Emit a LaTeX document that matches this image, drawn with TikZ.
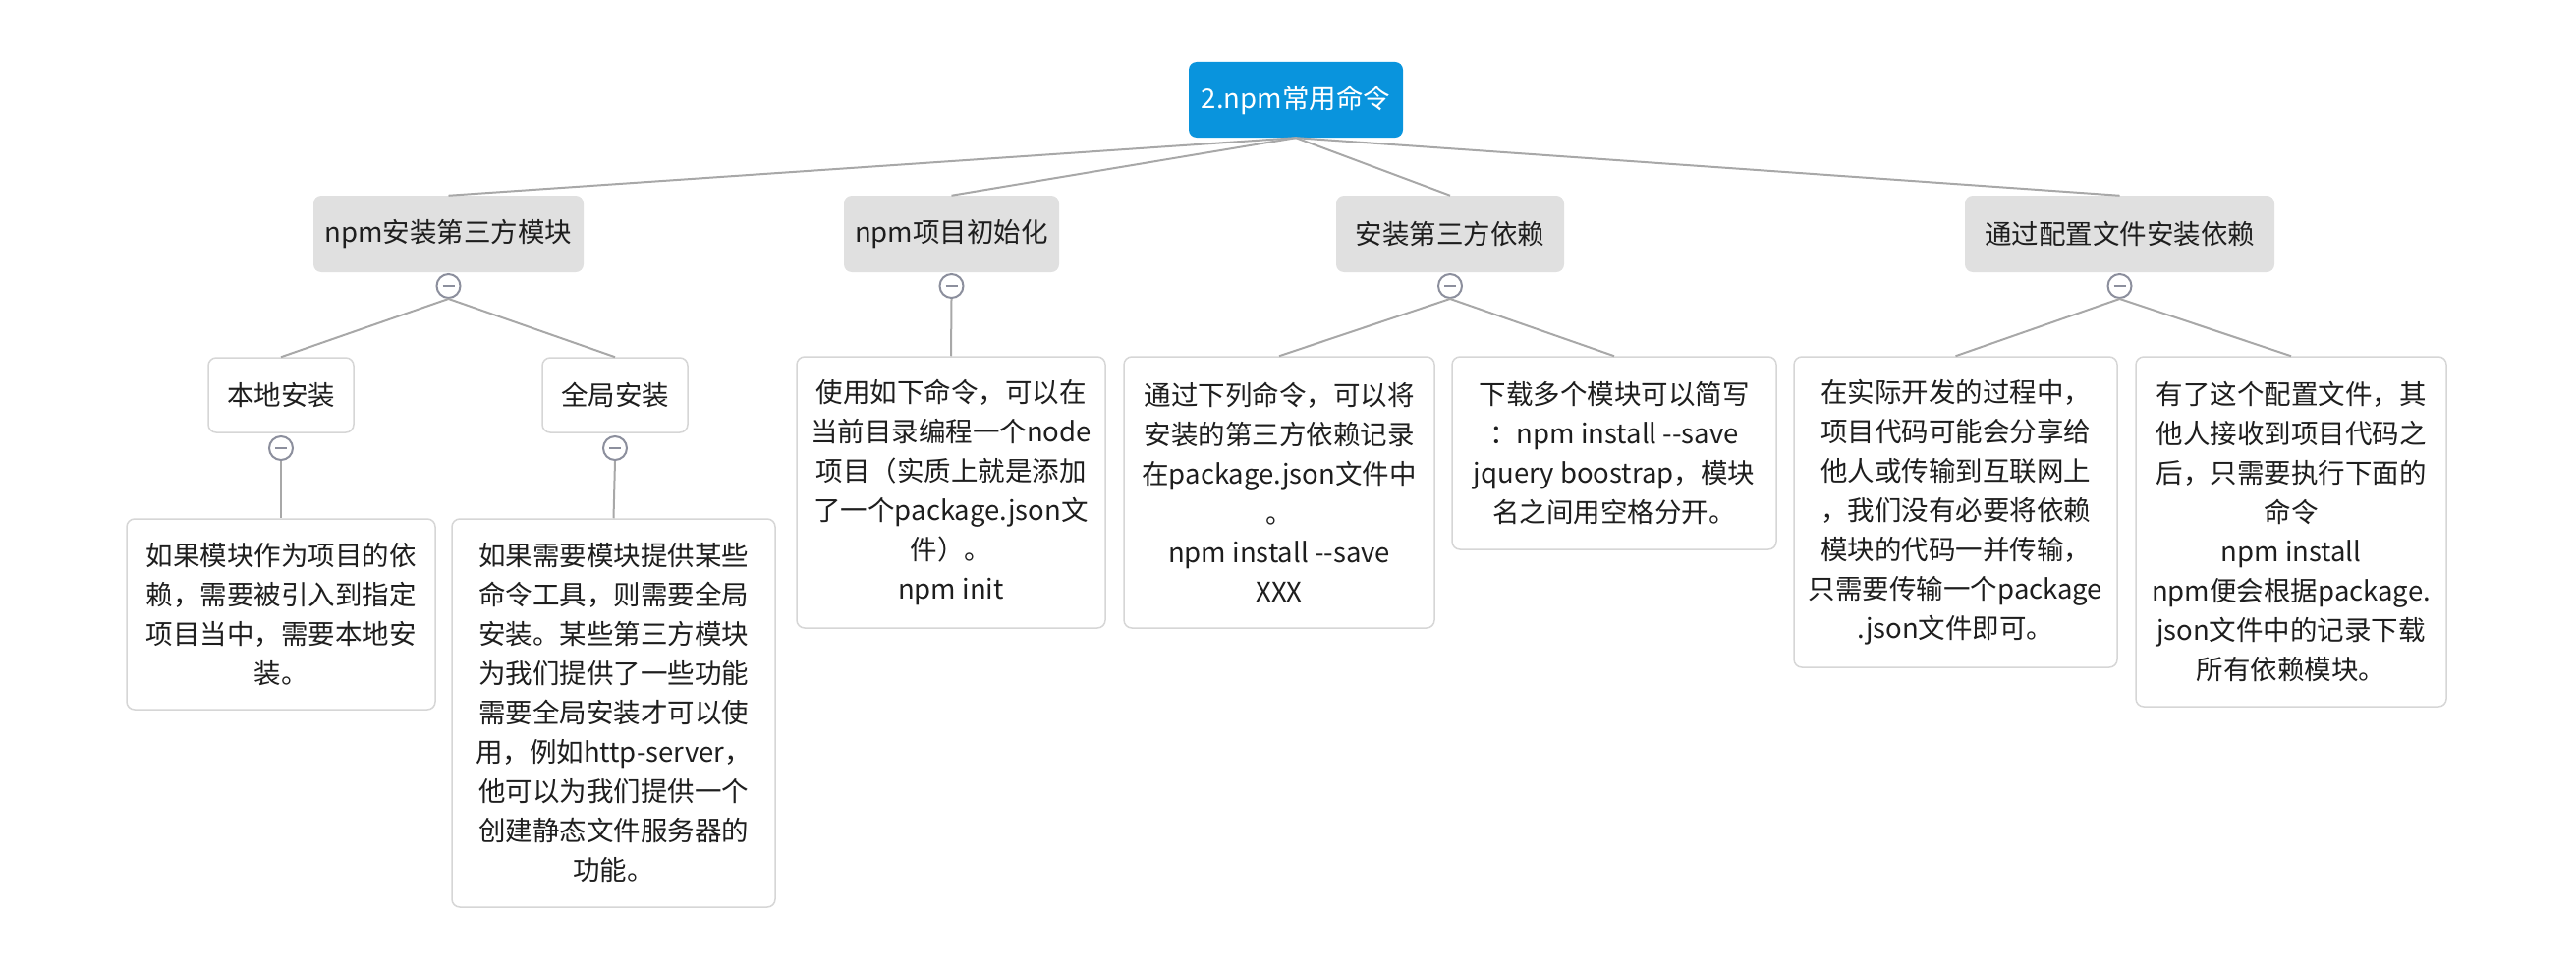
\documentclass[tikz,border=0pt]{standalone}
\usepackage{fontspec}
\setmainfont{Noto Sans CJK SC}
\definecolor{rootblue}{HTML}{0994DD}
\definecolor{lvgray}{HTML}{E0E0E0}
\definecolor{linegray}{HTML}{A8A8A8}
\definecolor{boxborder}{HTML}{D6D6D6}
\definecolor{circgray}{HTML}{8C8F9D}
\definecolor{txt}{HTML}{1E1E1E}
\begin{document}
\begin{tikzpicture}[x=1pt,y=-1pt,
 base/.style={inner sep=0pt, align=center, font=\fontsize{27.5}{40}\selectfont, text=txt, rounded corners=8pt},
 rootbox/.style={base, fill=rootblue, text=white},
 topic/.style={base, fill=lvgray},
 subbox/.style={base, draw=boxborder, line width=1.5pt, fill=white},
 conn/.style={draw=linegray, line width=2pt},
 fold/.style={circle, draw=circgray, line width=2pt, fill=white, minimum size=24pt, inner sep=0pt,
   path picture={\draw[circgray, line width=2.5pt] ([xshift=-6pt]path picture bounding box.center) -- ([xshift=6pt]path picture bounding box.center);}},
]
\useasboundingbox (0,0) rectangle (2622,990);

% root
\node[rootbox, minimum width=218pt, minimum height=77pt] (root) at (1319,101.5) {2.npm常用命令};

% level 1
\node[topic, minimum width=275pt, minimum height=78pt] (A) at (456.5,238) {npm安装第三方模块};
\node[topic, minimum width=219pt, minimum height=78pt] (B) at (968.5,238) {npm项目初始化};
\node[topic, minimum width=232pt, minimum height=78pt] (C) at (1476,238) {安装第三方依赖};
\node[topic, minimum width=315pt, minimum height=78pt] (D) at (2157.5,238) {通过配置文件安装依赖};

\draw[conn] (root.south) -- (A.north);
\draw[conn] (root.south) -- (B.north);
\draw[conn] (root.south) -- (C.north);
\draw[conn] (root.south) -- (D.north);

% fold circles level 1
\node[fold] (Af) at (456.5,291) {};
\node[fold] (Bf) at (968.5,291) {};
\node[fold] (Cf) at (1476,291) {};
\node[fold] (Df) at (2157.5,291) {};

% level 2 under A
\node[subbox, minimum width=148pt, minimum height=76pt] (A1) at (286,402) {本地安装};
\node[subbox, minimum width=148pt, minimum height=76pt] (A2) at (626,402) {全局安装};
\node[fold] (A1f) at (286,456) {};
\node[fold] (A2f) at (626,456) {};

\node[subbox, minimum width=314pt, minimum height=194pt] (A1d) at (286,625)
 {如果模块作为项目的依\\赖，需要被引入到指定\\项目当中，需要本地安\\装。};
\node[subbox, minimum width=329pt, minimum height=395pt] (A2d) at (624.5,725.5)
 {如果需要模块提供某些\\命令工具，则需要全局\\安装。某些第三方模块\\为我们提供了一些功能\\需要全局安装才可以使\\用，例如http-server，\\他可以为我们提供一个\\创建静态文件服务器的\\功能。};

% B child
\node[subbox, minimum width=314pt, minimum height=276pt] (Bd) at (968,501)
 {使用如下命令，可以在\\当前目录编程一个node\\项目（实质上就是添加\\了一个package.json文\\件）。\\npm init};

% C children
\node[subbox, minimum width=316pt, minimum height=276pt] (C1) at (1302,501)
 {通过下列命令，可以将\\安装的第三方依赖记录\\在package.json文件中\\。\\npm install -{}-save\\XXX};
\node[subbox, minimum width=330pt, minimum height=196pt] (C2) at (1643,461)
 {下载多个模块可以简写\\：npm install -{}-save\\jquery boostrap，模块\\名之间用空格分开。};

% D children
\node[subbox, minimum width=329pt, minimum height=316pt] (D1) at (1990.5,521)
 {在实际开发的过程中，\\项目代码可能会分享给\\他人或传输到互联网上\\，我们没有必要将依赖\\模块的代码一并传输，\\只需要传输一个package\\.json文件即可。};
\node[subbox, minimum width=316pt, minimum height=356pt] (D2) at (2332,541)
 {有了这个配置文件，其\\他人接收到项目代码之\\后，只需要执行下面的\\命令\\npm install\\npm便会根据package.\\json文件中的记录下载\\所有依赖模块。};

% connectors to children
\draw[conn] (Af.south) -- (A1.north);
\draw[conn] (Af.south) -- (A2.north);
\draw[conn] (A1f.south) -- (A1d.north);
\draw[conn] (A2f.south) -- (A2d.north);
\draw[conn] (Bf.south) -- (Bd.north);
\draw[conn] (Cf.south) -- (C1.north);
\draw[conn] (Cf.south) -- (C2.north);
\draw[conn] (Df.south) -- (D1.north);
\draw[conn] (Df.south) -- (D2.north);
\end{tikzpicture}
\end{document}
